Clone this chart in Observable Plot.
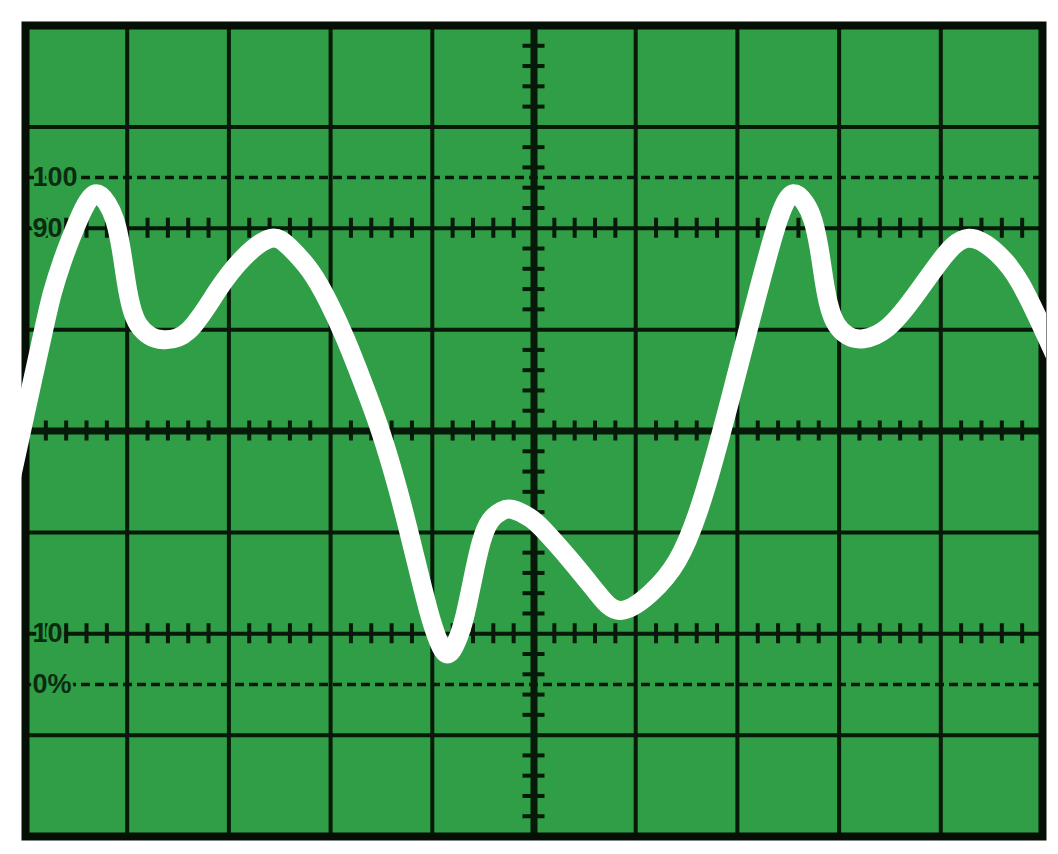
<!DOCTYPE html>
<html>
<head>
<meta charset="utf-8">
<style>
  html, body { margin: 0; padding: 0; background: #ffffff; }
  #chart svg { display: block; }
</style>
<script src="https://cdn.jsdelivr.net/npm/d3@7"></script>
<script src="https://cdn.jsdelivr.net/npm/@observablehq/plot@0.6"></script>
</head>
<body>
<div id="chart"></div>
<script>
// ---- graticule (x in divisions, y in percent: 0% .. 100% spans 5 divisions) ----
const gridX = [0, 1, 2, 3, 4, 5, 6, 7, 8, 9, 10];
const gridY = [-30, -10, 10, 30, 50, 70, 90, 110, 130];
const centerX = [5];
const centerY = [50];
const dashedLevels = [0, 100];
const tickedRows = [90, 50, 10];
const labelLevels = [100, 90, 10, 0];
const labelTexts = ["100", "90", "10", "0%"];

// ---- waveform trace ----
const traceTime = [
  -0.150, 0.000, 0.177, 0.265, 0.364, 0.462, 0.570, 0.688, 0.800, 0.880, 0.940, 0.990, 1.040, 1.110, 1.220, 1.357,
  1.603, 1.888, 2.144, 2.409, 2.600, 2.800, 2.980, 3.150, 3.320, 3.490, 3.660, 3.820, 3.960, 4.060, 4.149,
  4.240, 4.320, 4.400, 4.480, 4.570, 4.680, 4.789, 4.950, 5.093, 5.359, 5.624, 5.850,
  6.146, 6.411, 6.608, 6.765, 6.932, 7.099, 7.227, 7.355, 7.453, 7.552,
  7.664, 7.744, 7.804, 7.854, 7.904, 7.974, 8.084, 8.240,
  8.476, 8.732, 8.997, 9.263, 9.558, 9.784, 9.980, 10.079, 10.200];
const traceLevel = [
  39.8, 53.6, 69.8, 77.3, 83.6, 88.8, 93.8, 96.8, 95.0, 91.5, 86.0, 79.5, 74.5, 71.0, 68.8, 68.0,
  69.8, 77.7, 84.2, 88.0, 86.2, 81.6, 75.4, 68.0, 59.4, 50.0, 38.6, 26.0, 14.8, 8.6, 6.0,
  8.5, 13.5, 21.0, 28.0, 32.3, 34.2, 34.5, 33.0, 30.5, 24.5, 18.0, 14.6,
  18.0, 24.5, 33.7, 44.0, 56.5, 69.5, 79.3, 88.6, 94.3, 96.8,
  95.0, 91.5, 86.0, 79.5, 74.5, 71.0, 68.8, 68.2,
  70.4, 76.3, 83.6, 88.0, 85.0, 79.1, 71.2, 66.9, 61.6];

const trace = traceTime.map((t, i) => ({t, v: traceLevel[i]}));
const labels = labelLevels.map((v, i) => ({v, text: labelTexts[i]}));

// minor tick positions (every 0.2 division, skipping the major lines)
const minorX = d3.range(1, 50).filter(k => k % 5 !== 0).map(k => k / 5);
const minorY = d3.range(1, 40).filter(k => k % 5 !== 0).map(k => -30 + k * 4);
const rowTicks = tickedRows.flatMap(y => minorX.map(x => ({x, y})));
const colTicks = minorY.map(y => ({x: 5, y}));

const screen = "#2f9e46";
const ink = "#071a09";
const borderWidth = 8;

const chart = Plot.plot({
  width: 1058,
  height: 854,
  marginLeft: 25,
  marginRight: 16,
  marginTop: 25,
  marginBottom: 18,
  x: {domain: [0, 10], axis: null},
  y: {domain: [-30, 130], axis: null},
  marks: [
    Plot.frame({fill: screen, stroke: null}),
    Plot.ruleX(gridX, {stroke: ink, strokeWidth: 4}),
    Plot.ruleY(gridY, {stroke: ink, strokeWidth: 4}),
    Plot.ruleY(dashedLevels, {stroke: ink, strokeWidth: 3.5, strokeDasharray: "9,5"}),
    Plot.ruleX(centerX, {stroke: ink, strokeWidth: 7}),
    Plot.ruleY(centerY, {stroke: ink, strokeWidth: 7}),
    Plot.ruleX(rowTicks, {x: "x", y1: "y", y2: "y", insetTop: -10, insetBottom: -10, stroke: ink, strokeWidth: 4}),
    Plot.ruleY(colTicks, {y: "y", x1: "x", x2: "x", insetLeft: -11, insetRight: -11, stroke: ink, strokeWidth: 4}),
    Plot.text(labels, {
      x: 0, y: "v", text: "text", textAnchor: "start", dx: 7,
      fill: "#0c2c11", stroke: screen, strokeWidth: 5, paintOrder: "stroke",
      fontSize: 27, fontWeight: "bold", fontFamily: "Liberation Sans, Arial, sans-serif"
    }),
    Plot.frame({stroke: "#050f06", strokeWidth: borderWidth}),
    Plot.line(trace, {x: "t", y: "v", stroke: "#ffffff", strokeWidth: 19, curve: "natural",
      strokeLinecap: "butt", strokeLinejoin: "round", clip: "frame"})
  ]
});
// let the trace run over the thick border (clip to the border's outer edge)
chart.querySelectorAll("clipPath rect").forEach(r => {
  const h = borderWidth / 2;
  r.setAttribute("x", +r.getAttribute("x") - h);
  r.setAttribute("y", +r.getAttribute("y") - h);
  r.setAttribute("width", +r.getAttribute("width") + 2 * h);
  r.setAttribute("height", +r.getAttribute("height") + 2 * h);
});
document.getElementById("chart").append(chart);
</script>
</body>
</html>
